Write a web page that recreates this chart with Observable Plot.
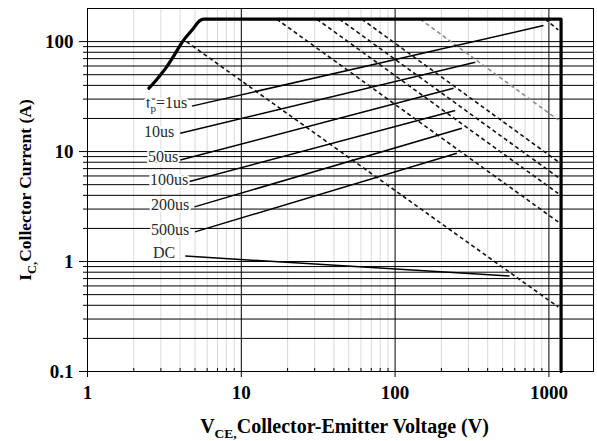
<!DOCTYPE html>
<html><head><meta charset="utf-8">
<script src="https://cdn.jsdelivr.net/npm/d3@7"></script>
<script src="https://cdn.jsdelivr.net/npm/@observablehq/plot@0.6"></script>
<style>body{margin:0;background:#fff}</style>
</head><body><div id="chart"></div>
<script>
// tick values
const xMajor = [1, 10, 100, 1000];
const yMajor = [0.1, 1, 10, 100];
const xMinor = [2,3,4,5,6,7,8,9,20,30,40,50,60,70,80,90,200,300,400,500,600,700,800,900];
const yMinor = [0.2,0.3,0.4,0.5,0.6,0.7,0.8,0.9,2,3,4,5,6,7,8,9,20,30,40,50,60,70,80,90];
const yGrid = [0.2,0.3,0.4,0.5,0.6,0.7,0.8,0.9,1,2,3,4,5,6,7,8,9,10,20,30,40,50,60,70,80,90,100];

// SOA boundary (thick line)
const boundaryV = [2.51, 2.9, 3.28, 3.7, 4.15, 4.8, 5.41, 5.7, 1200, 1200];
const boundaryI = [37.7, 47.5, 59.2, 77, 100, 128, 156, 160, 160, 0.1];

// pulse lines (solid) with labels
const pulseNames  = ["tp=1us", "10us", "50us", "100us", "200us", "500us", "DC"];
const pulseV1 = [4.77, 4.01, 4.01, 4.54, 4.96, 5.0, 4.32];
const pulseI1 = [25.9, 14.7, 8.37, 5.31, 3.14, 1.86, 1.12];
const pulseV2 = [922, 332, 240, 246, 272, 252, 554];
const pulseI2 = [140, 64.9, 37.6, 23.6, 16.3, 9.64, 0.74];
const labelV = [4.45, 3.66, 3.89, 4.52, 4.58, 4.58, 3.72];
const labelI = [27.7, 15.2, 9.0, 5.56, 3.29, 1.93, 1.20];

// power-limit lines (dashed)
const powerV1 = [4.4, 17.0, 31.0, 43.5, 60.8, 145.6, 946];
const powerI1 = [100, 160, 160, 160, 160, 160, 160];
const powerV2 = [1150, 1150, 1150, 1150, 1150, 1150, 1150];
const powerI2 = [0.386, 2.29, 4.16, 5.82, 8.08, 19.4, 128];
const powerTone = ["black", "black", "black", "black", "black", "gray", "black"];

const xTitle = "VCE,Collector-Emitter Voltage (V)";
const yTitle = "IC,Collector Current (A)";

const boundary = boundaryV.map((v, i) => ({v, i: boundaryI[i]}));
const pulses = pulseNames.map((n, k) => ({n, v1: pulseV1[k], i1: pulseI1[k], v2: pulseV2[k], i2: pulseI2[k], lv: labelV[k], li: labelI[k]}));
const powers = powerV1.map((v, k) => ({v1: v, i1: powerI1[k], v2: powerV2[k], i2: powerI2[k], tone: powerTone[k]}));

const chart = Plot.plot({
  width: 597, height: 441,
  marginLeft: 87, marginRight: 4, marginTop: 8, marginBottom: 70,
  style: {fontFamily: "'Liberation Serif','Times New Roman',serif", fontSize: "19px", fontWeight: "bold", color: "black", background: "white"},
  x: {type: "log", domain: [1, 1950]},
  y: {type: "log", domain: [0.1, 200]},
  marks: [
    Plot.gridX(xMinor, {stroke: "#d9d9d9", strokeOpacity: 1}),
    Plot.gridY(yGrid, {stroke: "black", strokeOpacity: 1}),
    Plot.gridX(xMajor.slice(1), {stroke: "black", strokeOpacity: 1}),
    Plot.frame({stroke: "black"}),
    Plot.axisX(xMajor, {tickSize: 6, tickPadding: 8, tickFormat: d => String(d), label: null}),
    Plot.axisX(xMinor, {tickSize: -3, tickFormat: () => "", label: null}),
    Plot.axisY(yMajor, {tickSize: 8, tickPadding: 6, tickFormat: d => String(d), label: null}),
    Plot.axisY(yMinor, {tickSize: 4, tickFormat: () => "", label: null}),
    Plot.link(powers, {x1: "v1", y1: "i1", x2: "v2", y2: "i2", stroke: d => d.tone === "gray" ? "#8a8a8a" : "#111", strokeWidth: 1.6, strokeDasharray: "4,3"}),
    Plot.link(pulses, {x1: "v1", y1: "i1", x2: "v2", y2: "i2", stroke: "black", strokeWidth: 1.5}),
    Plot.line(boundary, {x: "v", y: "i", stroke: "black", strokeWidth: 3.2, strokeLinejoin: "round", curve: "monotone-x"}),
    Plot.text(pulses, {x: "lv", y: "li", text: "n", textAnchor: "end", fontSize: 16, fontWeight: "normal", fill: "#2a2a2a", stroke: "white", strokeWidth: 4, paintOrder: "stroke"}),
    Plot.text([xTitle], {frameAnchor: "bottom", text: d => d, lineAnchor: "middle", textAnchor: "middle", dy: 55, dx: 4, fontSize: 20}),
    Plot.text([yTitle], {frameAnchor: "left", text: d => d, rotate: -90, textAnchor: "middle", lineAnchor: "middle", dx: -62, fontSize: 17.5})
  ]
});
document.getElementById("chart").appendChild(chart);

function subscriptify(full, parts, subSize, shift) {
  d3.select(chart).selectAll("text").filter(function() { return this.textContent === full; }).each(function() {
    const t = d3.select(this);
    t.text(null);
    parts.forEach(([s, isSub], k) => {
      const ts = t.append("tspan").text(s);
      if (isSub) ts.attr("dy", shift).attr("font-size", subSize);
      else if (k > 0 && parts[k - 1][1]) ts.attr("dy", -shift);
    });
  });
}
subscriptify(xTitle, [["V", false], ["CE,", true], ["Collector-Emitter Voltage (V)", false]], 13.5, 5);
subscriptify(yTitle, [["I", false], ["C,", true], ["Collector Current (A)", false]], 12.5, 5);
subscriptify("tp=1us", [["t", false], ["p", true], ["=1us", false]], 11, 4);
</script>
</body></html>
